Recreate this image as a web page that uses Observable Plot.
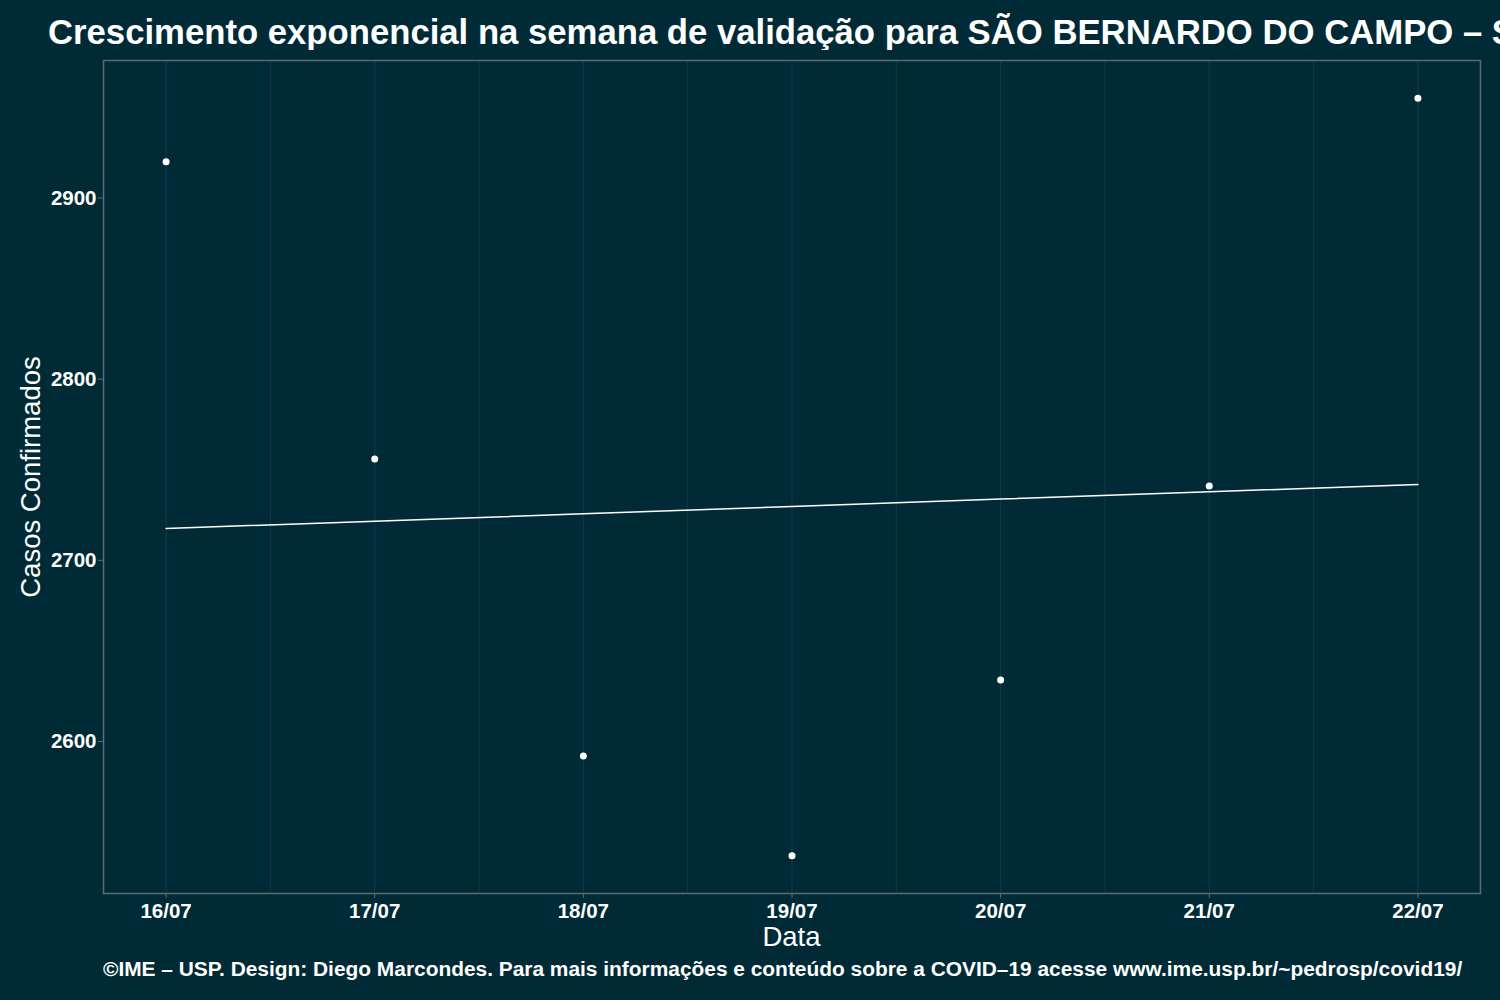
<!DOCTYPE html>
<html>
<head>
<meta charset="utf-8">
<script src="https://cdn.jsdelivr.net/npm/d3@7"></script>
<script src="https://cdn.jsdelivr.net/npm/@observablehq/plot@0.6"></script>
<style>
  html, body { margin: 0; padding: 0; background: #002b36; }
  #wrap { position: relative; width: 1500px; height: 1000px; background: #002b36; overflow: hidden; font-family: "Liberation Sans", Arial, Helvetica, sans-serif; color: #ffffff; }
  #title { position: absolute; left: 48px; top: 12px; font-size: 34.7px; font-weight: bold; white-space: nowrap; line-height: 40px; }
  #chart { position: absolute; left: 0; top: 50px; }
  #xlab { position: absolute; left: 103px; width: 1377px; top: 921px; text-align: center; font-size: 27.5px; line-height: 32px; }
  #ylab { position: absolute; left: 31px; top: 477px; font-size: 27.5px; line-height: 32px; white-space: nowrap; transform: translate(-50%, -50%) rotate(-90deg); }
  #caption { position: absolute; left: 103px; top: 956px; font-size: 20.9px; font-weight: bold; white-space: nowrap; line-height: 26px; }
</style>
</head>
<body>
<div id="wrap">
  <div id="title">Crescimento exponencial na semana de validação para SÃO BERNARDO DO CAMPO – SP</div>
  <div id="chart"></div>
  <div id="xlab">Data</div>
  <div id="ylab">Casos Confirmados</div>
  <div id="caption">©IME – USP. Design: Diego Marcondes. Para mais informações e conteúdo sobre a COVID–19 acesse www.ime.usp.br/~pedrosp/covid19/</div>
</div>
<script>
// Data
const dates = ["2020-07-16", "2020-07-17", "2020-07-18", "2020-07-19", "2020-07-20", "2020-07-21", "2020-07-22"];
const casos = [2920, 2756, 2592, 2537, 2634, 2741, 2955];
const ajuste = [2717.6, 2721.6, 2725.7, 2729.7, 2733.8, 2737.8, 2741.9];
const yTicks = [2600, 2700, 2800, 2900];

const bg = "#002b36";
const gridColor = "#0b3a46";
const frameColor = "#5b6c71";

const parse = d3.utcParse("%Y-%m-%d");
const pts = dates.map((d, i) => ({date: parse(d), casos: casos[i], ajuste: ajuste[i]}));
const midDates = pts.slice(0, -1).map(p => d3.utcHour.offset(p.date, 12));

// ggplot-like 5% expansion
const xExt = d3.extent(pts, d => d.date);
const xPad = (xExt[1] - xExt[0]) * 0.05;
const yAll = casos.concat(ajuste);
const yExt = d3.extent(yAll);
const yPad = (yExt[1] - yExt[0]) * 0.05;

const chart = Plot.plot({
  width: 1500,
  height: 900,
  marginLeft: 103,
  marginRight: 20,
  marginTop: 10,
  marginBottom: 57,
  style: {background: bg, color: "#ffffff", fontFamily: "'Liberation Sans', Arial, Helvetica, sans-serif", overflow: "visible"},
  x: {type: "utc", domain: [new Date(+xExt[0] - xPad), new Date(+xExt[1] + xPad)]},
  y: {domain: [yExt[0] - yPad, yExt[1] + yPad]},
  marks: [
    Plot.ruleX(midDates, {x: d => d, stroke: gridColor, strokeWidth: 1}),
    Plot.ruleX(pts, {x: "date", stroke: gridColor, strokeWidth: 1.2}),
    Plot.frame({stroke: frameColor, strokeWidth: 1.5}),
    Plot.axisY({ticks: yTicks, tickSize: 5, tickPadding: 2, stroke: frameColor, fill: "#ffffff", fontSize: 20.5, fontWeight: "bold", label: null, tickFormat: d => String(d)}),
    Plot.axisX({ticks: pts.map(p => p.date), tickSize: 5, tickPadding: 5, stroke: frameColor, fill: "#ffffff", fontSize: 20.5, fontWeight: "bold", label: null, tickFormat: d3.utcFormat("%d/%m")}),
    Plot.line(pts, {x: "date", y: "ajuste", stroke: "#ffffff", strokeWidth: 1.5}),
    Plot.dot(pts, {x: "date", y: "casos", r: 3.5, fill: "#ffffff", stroke: "none"})
  ]
});
document.getElementById("chart").appendChild(chart);
</script>
</body>
</html>
